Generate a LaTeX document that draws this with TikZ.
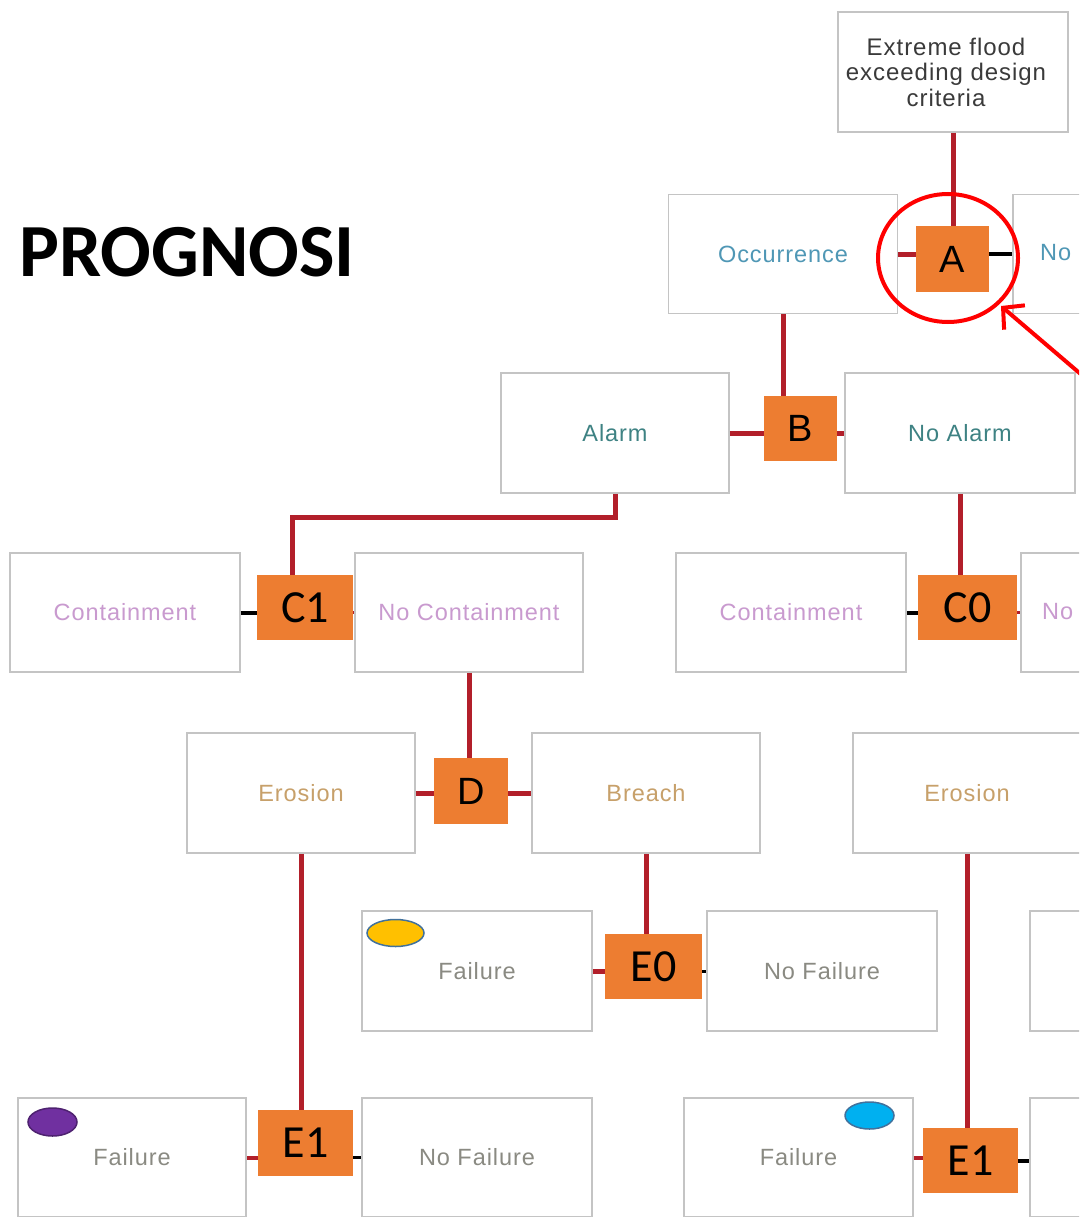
\documentclass[tikz,border=0pt]{standalone}
\usepackage{fontspec}
\setmainfont{Liberation Sans}
\newfontfamily\calib{Carlito}
\newfontfamily\boxfont[LetterSpace=4]{Liberation Sans}
\usetikzlibrary{arrows.meta,shapes.geometric}
\definecolor{boxgrey}{HTML}{C4C4C4}
\definecolor{gateorange}{HTML}{ED7D31}
\definecolor{linered}{HTML}{B21F2A}
\definecolor{occtext}{HTML}{4F97B5}
\definecolor{alarmtext}{HTML}{3E8283}
\definecolor{conttext}{HTML}{C99ACF}
\definecolor{erostext}{HTML}{C7A06A}
\definecolor{failtext}{HTML}{8A8A82}
\definecolor{toptext}{HTML}{3A3A3A}
\definecolor{dotyellow}{HTML}{FFC000}
\definecolor{dotpurple}{HTML}{7030A0}
\definecolor{dotblue}{HTML}{00B0F0}
\definecolor{dotedge}{HTML}{41719C}
\begin{document}
\begin{tikzpicture}[x=1pt,y=-1pt,
  evbox/.style={draw=boxgrey, line width=1.5pt, fill=white, minimum height=119pt, minimum width=229pt, inner sep=0pt, font=\boxfont\fontsize{23.5}{26}\selectfont},
  gate/.style={fill=gateorange, draw=none, inner sep=0pt, text=black, minimum height=66pt},
  gateA/.style={gate, font=\fontsize{38}{38}\selectfont},
  gateC/.style={gate, font=\calib\fontsize{46}{46}\selectfont},
  redline/.style={draw=linered, line width=5pt},
  blackline/.style={draw=black, line width=4pt},
  dot/.style={ellipse, draw=dotedge, line width=1.5pt, minimum width=50pt, minimum height=27pt, inner sep=0pt}
]
\useasboundingbox (0,0) rectangle (1079,1217);
\fill[white] (0,0) rectangle (1079,1217);
\clip (0,0) rectangle (1079,1217);

% title
\node[font=\calib\bfseries\fontsize{75}{75}\selectfont, inner sep=0pt] (title) at (187,252) {PROGNOSI};

% top box
\node[evbox, minimum width=230pt, minimum height=120pt] (top) at (953,72) {};
\node[align=center, text=toptext, inner sep=0pt, font=\boxfont\fontsize{24}{25.5}\selectfont] (toptxt) at (946,72) {Extreme flood\\exceeding design\\criteria};

% row 1
\node[evbox, text=occtext] (occ) at (783,254) {Occurrence};
\node[evbox, minimum width=228pt] (noocc) at (1127,254) {};
\node[text=occtext, font=\boxfont\fontsize{23.5}{26}\selectfont, anchor=west, inner sep=0pt] (nooccT) at (1040,253) {No};
\node[gateA, minimum width=73pt] (A) at (952.5,259) {A};

% row 2
\node[evbox, minimum width=228pt, minimum height=120pt, text=alarmtext] (alarm) at (615,433) {Alarm};
\node[evbox, minimum width=230pt, minimum height=120pt, text=alarmtext] (noalarm) at (960,433) {No Alarm};
\node[gateA, minimum width=73pt, minimum height=65pt] (B) at (800.5,428.5) {B};

% row 3
\node[evbox, minimum width=230pt, text=conttext] (cont1) at (125,612.5) {Containment};
\node[evbox, minimum width=228pt, text=conttext] (nocont) at (469,612.5) {No Containment};
\node[gateC, minimum width=96pt, minimum height=65pt] (C1) at (305,607.5) {C1};
\node[evbox, minimum width=230pt, text=conttext] (cont2) at (791,612.5) {Containment};
\node[evbox, minimum width=228pt] (nocont2) at (1135,612.5) {};
\node[text=conttext, font=\boxfont\fontsize{23.5}{26}\selectfont, anchor=west, inner sep=0pt] (nocont2T) at (1042,612) {No};
\node[gateC, minimum width=99pt, minimum height=65pt] (C0) at (967.5,607.5) {C0};

% row 4
\node[evbox, minimum width=228pt, minimum height=120pt, text=erostext] (eros1) at (301,793) {Erosion};
\node[evbox, minimum width=228pt, minimum height=120pt, text=erostext] (breach) at (646,793) {Breach};
\node[gateA, minimum width=74pt] (D) at (471,791) {D};
\node[evbox, minimum width=228pt, minimum height=120pt, text=erostext] (eros2) at (967,793) {Erosion};

% row 5
\node[evbox, minimum width=230pt, minimum height=120pt, text=failtext] (fail1) at (477,971) {Failure};
\node[evbox, minimum width=230pt, minimum height=120pt, text=failtext] (nofail1) at (822,971) {No Failure};
\node[evbox, minimum width=228pt, minimum height=120pt] (box5r) at (1144,971) {};
\node[gateC, minimum width=97pt, minimum height=65pt] (E0) at (653.5,966.5) {E0};

% row 6
\node[evbox, minimum width=228pt, text=failtext] (fail2) at (132,1157.5) {Failure};
\node[evbox, minimum width=230pt, text=failtext] (nofail2) at (477,1157.5) {No Failure};
\node[gateC, minimum width=95pt] (E1a) at (305.5,1143) {E1};
\node[evbox, minimum width=229pt, text=failtext] (fail3) at (798.5,1157.5) {Failure};
\node[evbox, minimum width=228pt] (box6r) at (1144,1157.5) {};
\node[gateC, minimum width=95pt, minimum height=65pt] (E1b) at (970.5,1160.5) {E1};

% dots
\node[dot, fill=dotyellow, minimum width=57pt, minimum height=27pt] (dotY) at (395.5,933) {};
\node[dot, fill=dotpurple, draw=dotpurple!70!black, minimum width=49pt, minimum height=28pt] (dotP) at (52.5,1122) {};
\node[dot, fill=dotblue, draw=dotedge, minimum width=49pt, minimum height=27pt] (dotB) at (869.5,1115.5) {};

% connectors
\draw[redline] (top.south) -- (top.south |- A.north);
\draw[redline] (occ.east) -- (occ.east -| A.west);
\draw[blackline] (A.east |- noocc.west) -- (noocc.west);

\draw[redline] (occ.south) -- (occ.south |- B.north);
\draw[redline] (alarm.east) -- (alarm.east -| B.west);
\draw[redline] (B.east |- noalarm.west) -- (noalarm.west);

\draw[redline] (alarm.south) -- ++(0,24) -| ([xshift=-13pt]C1.north);
\draw[redline] (noalarm.south) -- (noalarm.south |- C0.north);
\draw[blackline] (cont1.east) -- (cont1.east -| C1.west);
\draw[redline, line width=3pt] (C1.east |- nocont.west) -- (nocont.west);
\draw[blackline] (cont2.east) -- (cont2.east -| C0.west);
\draw[redline, line width=3pt] (C0.east |- nocont2.west) -- (nocont2.west);

\draw[redline] (nocont.south) -- (nocont.south |- D.north);
\draw[redline] (eros1.east) -- (eros1.east -| D.west);
\draw[redline] (D.east |- breach.west) -- (breach.west);

\draw[redline] (breach.south) -- (breach.south |- E0.north);
\draw[redline] (fail1.east) -- (fail1.east -| E0.west);
\draw[blackline, line width=3pt] (E0.east |- nofail1.west) -- (nofail1.west);

\draw[redline] (eros1.south) -- (eros1.south |- E1a.north);
\draw[redline, line width=4pt] (fail2.east) -- (fail2.east -| E1a.west);
\draw[blackline, line width=3pt] (E1a.east |- nofail2.west) -- (nofail2.west);

\draw[redline] (eros2.south) -- (eros2.south |- E1b.north);
\draw[redline, line width=4pt] (fail3.east) -- (fail3.east -| E1b.west);
\draw[blackline] ([yshift=-3pt]E1b.east |- box6r.west) -- ([yshift=-3pt]box6r.west);

% highlight circle and arrow
\draw[red, line width=4pt] (A) ++(-4.5,-1) ellipse [x radius=70, y radius=64];
\coordinate (arrowstart) at (1090,382);
\coordinate (arrowtip) at (1001,306);
\draw[red, line width=4pt, -{Straight Barb[length=15pt,width=32pt]}] (arrowstart) -- (arrowtip);
\end{tikzpicture}
\end{document}
